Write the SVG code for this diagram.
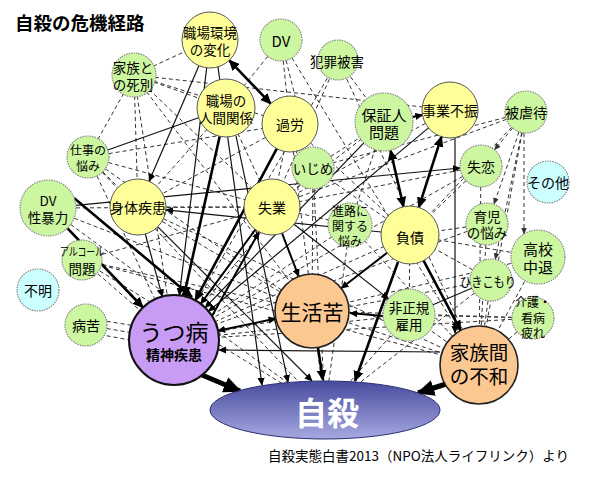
<svg xmlns="http://www.w3.org/2000/svg" width="600" height="480" viewBox="0 0 600 480">
<defs>
<style>
.d{stroke:#333;stroke-width:1;stroke-dasharray:4 3;fill:none}
.s{stroke:#111;stroke-width:1.2;fill:none}
.m{stroke:#000;stroke-width:2;fill:none}
.t{stroke:#000;stroke-width:2.6;fill:none}
.x{stroke:#000;stroke-width:5;fill:none}
.y{fill:#ffff99;stroke:#555;stroke-width:1}
.g{fill:#ccf7a0;stroke:#888;stroke-width:1.2;stroke-dasharray:1.5 1}
.c{fill:#ccffff;stroke:#888;stroke-width:1.2;stroke-dasharray:1.5 1}
.o{fill:#fcc892;stroke:#222;stroke-width:1.6}
.p{fill:#c89cf5;stroke:#111;stroke-width:2}
text{font-family:"Noto Sans CJK JP","Noto Sans CJK SC",sans-serif;fill:#000;text-anchor:middle;dominant-baseline:central;font-size:13.5px}
.f12{font-size:12px}
.f14{font-size:14px}
.f15{font-size:15px}
</style>
<marker id="a" viewBox="0 0 10 10" refX="9" refY="5" markerWidth="8" markerHeight="8" markerUnits="userSpaceOnUse" orient="auto-start-reverse"><path d="M0,0.5 L10,5 L0,9.5 z" fill="#000"/></marker>
<marker id="ab" viewBox="0 0 10 10" refX="9" refY="5" markerWidth="11" markerHeight="11" markerUnits="userSpaceOnUse" orient="auto-start-reverse"><path d="M0,0.5 L10,5 L0,9.5 z" fill="#000"/></marker>
<marker id="ax" viewBox="0 0 10 10" refX="9" refY="5" markerWidth="18" markerHeight="18" markerUnits="userSpaceOnUse" orient="auto-start-reverse"><path d="M0,0.5 L10,5 L0,9.5 z" fill="#000"/></marker>
<marker id="ad" viewBox="0 0 10 10" refX="9" refY="5" markerWidth="7" markerHeight="7" markerUnits="userSpaceOnUse" orient="auto-start-reverse"><path d="M0,1 L10,5 L0,9 z" fill="#333"/></marker>
<linearGradient id="gj" x1="0" y1="0" x2="0" y2="1">
<stop offset="0" stop-color="#474b9f"/>
<stop offset="1" stop-color="#a6a9e0"/>
</linearGradient>
</defs>
<rect width="600" height="480" fill="#fff"/>
<text x="15" y="22" style="text-anchor:start;font-size:18.5px;font-weight:bold">自殺の危機経路</text>

<g id="connectors">
<line class="d" x1="134" y1="75" x2="210" y2="40"/>
<line class="d" x1="134" y1="75" x2="226" y2="108"/>
<line class="d" x1="134" y1="75" x2="290" y2="124"/>
<line class="d" x1="134" y1="75" x2="174" y2="340"/>
<line class="d" x1="134" y1="75" x2="138" y2="207"/>
<line class="d" x1="134" y1="75" x2="272" y2="207"/>
<line class="d" x1="134" y1="75" x2="88" y2="157"/>
<line class="d" x1="134" y1="75" x2="450" y2="110"/>
<line class="d" x1="134" y1="75" x2="312" y2="311"/>
<line class="d" x1="281" y1="40" x2="226" y2="108"/>
<line class="d" x1="281" y1="40" x2="290" y2="124"/>
<line class="d" x1="281" y1="40" x2="479" y2="365"/>
<line class="d" x1="281" y1="40" x2="313" y2="168"/>
<line class="d" x1="338" y1="60" x2="384" y2="122"/>
<line class="d" x1="338" y1="60" x2="272" y2="207"/>
<line class="d" x1="338" y1="60" x2="174" y2="340"/>
<line class="d" x1="338" y1="60" x2="479" y2="365"/>
<line class="d" x1="88" y1="157" x2="290" y2="124"/>
<line class="d" x1="88" y1="157" x2="174" y2="340"/>
<line class="d" x1="88" y1="157" x2="138" y2="207"/>
<line class="d" x1="88" y1="157" x2="272" y2="207"/>
<line class="d" x1="88" y1="157" x2="325" y2="410"/>
<line class="d" x1="88" y1="157" x2="312" y2="311"/>
<line class="d" x1="526" y1="112" x2="410" y2="235"/>
<line class="d" x1="526" y1="112" x2="272" y2="207"/>
<line class="d" x1="526" y1="112" x2="479" y2="365"/>
<line class="d" x1="526" y1="112" x2="313" y2="168"/>
<line class="d" x1="481" y1="166" x2="410" y2="235"/>
<line class="d" x1="481" y1="166" x2="272" y2="207"/>
<line class="d" x1="481" y1="166" x2="174" y2="340"/>
<line class="d" x1="481" y1="166" x2="479" y2="365"/>
<line class="d" x1="487" y1="224" x2="410" y2="235"/>
<line class="d" x1="487" y1="224" x2="479" y2="365"/>
<line class="d" x1="487" y1="224" x2="174" y2="340"/>
<line class="d" x1="538" y1="257" x2="410" y2="235"/>
<line class="d" x1="538" y1="257" x2="479" y2="365"/>
<line class="d" x1="538" y1="257" x2="312" y2="311"/>
<line class="d" x1="491" y1="280" x2="410" y2="235"/>
<line class="d" x1="491" y1="280" x2="479" y2="365"/>
<line class="d" x1="491" y1="280" x2="174" y2="340"/>
<line class="d" x1="491" y1="280" x2="325" y2="410"/>
<line class="d" x1="533" y1="318" x2="479" y2="365"/>
<line class="d" x1="533" y1="318" x2="174" y2="340"/>
<line class="d" x1="533" y1="318" x2="409" y2="315"/>
<line class="d" x1="533" y1="318" x2="312" y2="311"/>
<line class="d" x1="409" y1="315" x2="410" y2="235"/>
<line class="d" x1="409" y1="315" x2="479" y2="365"/>
<line class="d" x1="409" y1="315" x2="174" y2="340"/>
<line class="d" x1="409" y1="315" x2="325" y2="410"/>
<line class="d" x1="350" y1="225" x2="272" y2="207"/>
<line class="d" x1="350" y1="225" x2="174" y2="340"/>
<line class="d" x1="350" y1="225" x2="325" y2="410"/>
<line class="d" x1="350" y1="225" x2="479" y2="365"/>
<line class="d" x1="350" y1="225" x2="384" y2="122"/>
<line class="d" x1="313" y1="168" x2="272" y2="207"/>
<line class="d" x1="313" y1="168" x2="174" y2="340"/>
<line class="d" x1="313" y1="168" x2="325" y2="410"/>
<line class="d" x1="313" y1="168" x2="312" y2="311"/>
<line class="d" x1="313" y1="168" x2="384" y2="122"/>
<line class="d" x1="313" y1="168" x2="410" y2="235"/>
<line class="d" x1="82" y1="260" x2="174" y2="340"/>
<line class="d" x1="82" y1="260" x2="312" y2="311"/>
<line class="d" x1="82" y1="260" x2="479" y2="365"/>
<line class="d" x1="82" y1="260" x2="325" y2="410"/>
<line class="d" x1="82" y1="260" x2="272" y2="207"/>
<line class="d" x1="86" y1="318" x2="174" y2="332"/>
<line class="d" x1="86" y1="325" x2="174" y2="340"/>
<line class="d" x1="86" y1="332" x2="174" y2="348"/>
<line class="d" x1="138" y1="207" x2="272" y2="207"/>
<line class="d" x1="138" y1="207" x2="312" y2="311"/>
<line class="d" x1="138" y1="207" x2="479" y2="365"/>
<line class="d" x1="290" y1="124" x2="272" y2="207"/>
<line class="d" x1="290" y1="124" x2="325" y2="410"/>
<line class="d" x1="290" y1="124" x2="138" y2="207"/>
<line class="d" x1="290" y1="124" x2="410" y2="235"/>
<line class="d" x1="226" y1="108" x2="138" y2="207"/>
<line class="d" x1="226" y1="108" x2="272" y2="207"/>
<line class="d" x1="410" y1="235" x2="174" y2="340"/>
<line class="d" x1="479" y1="365" x2="312" y2="311"/>
<line class="d" x1="48" y1="208" x2="272" y2="207"/>
<line class="d" x1="48" y1="208" x2="312" y2="311"/>
<line class="d" x1="48" y1="208" x2="325" y2="410"/>
<line class="d" x1="450" y1="110" x2="272" y2="207"/>
<line class="d" x1="384" y1="122" x2="272" y2="207"/>
<line class="d" x1="512.6" y1="128.1" x2="494.4" y2="149.9" marker-end="url(#ad)"/>
<line class="d" x1="519.1" y1="131.8" x2="493.9" y2="204.2" marker-end="url(#ad)"/>
<line class="d" x1="524" y1="133" x2="524" y2="234" marker-end="url(#ad)"/>
<line class="d" x1="521.7" y1="132.6" x2="495.3" y2="259.4" marker-end="url(#ad)"/>

<line class="s" x1="226" y1="108" x2="88" y2="157"/>
<line class="s" x1="491" y1="280" x2="409" y2="315"/>
<line class="s" x1="75.9" y1="205.3" x2="460.1" y2="168" marker-end="url(#a)"/>
<line class="s" x1="381.1" y1="232" x2="165.9" y2="209.9" marker-end="url(#a)"/>
<line class="s" x1="294" y1="224.3" x2="388.6" y2="298.9" marker-end="url(#a)"/>
<line class="s" x1="198.9" y1="65.7" x2="149.1" y2="181.3" marker-end="url(#a)"/>
<line class="s" x1="206.7" y1="67.8" x2="179.4" y2="295.3" marker-end="url(#a)"/>
<line class="s" x1="145.3" y1="234" x2="162.3" y2="296.6" marker-end="url(#a)"/>
<line class="s" x1="428.5" y1="127.9" x2="208.6" y2="311.2" marker-end="url(#a)"/>
<line class="s" x1="363.9" y1="142.9" x2="205.2" y2="307.6" marker-end="url(#a)"/>
<line class="s" x1="218" y1="67" x2="262" y2="385" marker-end="url(#a)"/>
<line class="s" x1="236" y1="136" x2="288" y2="382" marker-end="url(#a)"/>
<line class="s" x1="157.8" y1="226.8" x2="312" y2="381" marker-end="url(#a)"/>
<line class="s" x1="455" y1="137" x2="455" y2="333" marker-end="url(#a)"/>
<line class="s" x1="440" y1="352" x2="219" y2="350" marker-end="url(#a)"/>

<line class="m" x1="412.5" y1="117" x2="422.5" y2="115" marker-end="url(#a)"/>
<line class="m" x1="218" y1="330.7" x2="275.8" y2="318.6" marker-start="url(#a)" marker-end="url(#a)"/>
<line class="m" x1="383" y1="316" x2="350" y2="313" marker-end="url(#a)"/>
<line class="m" x1="387.1" y1="252.8" x2="341.2" y2="288.3" marker-end="url(#a)"/>
<line class="m" x1="282" y1="233.2" x2="298.7" y2="276.4" marker-end="url(#a)"/>
<line class="m" x1="255.4" y1="229.5" x2="200.7" y2="303.8" marker-end="url(#a)"/>
<line class="m" x1="212" y1="316" x2="259" y2="232" marker-end="url(#a)"/>

<line class="t" x1="229.3" y1="60.3" x2="270.7" y2="103.7" marker-start="url(#ab)" marker-end="url(#ab)"/>
<line class="t" x1="390.5" y1="150.2" x2="403.5" y2="206.8" marker-start="url(#ab)" marker-end="url(#ab)"/>
<line class="t" x1="441.5" y1="136.7" x2="418.8" y2="207.4" marker-start="url(#ab)" marker-end="url(#ab)"/>
<line class="t" x1="423.6" y1="260.6" x2="460.7" y2="330.6" marker-end="url(#ab)"/>
<line class="t" x1="398" y1="262" x2="355" y2="381" marker-end="url(#ab)"/>
<line class="t" x1="318" y1="348" x2="323" y2="380" marker-end="url(#ab)"/>
<line class="t" x1="67.3" y1="228.2" x2="143" y2="307.5" marker-end="url(#ab)"/>
<line class="t" x1="74" y1="198" x2="192" y2="297" marker-end="url(#ab)"/>
<line class="t" x1="219.7" y1="136.3" x2="183.9" y2="296.1" marker-end="url(#ab)"/>
<line class="t" x1="276.8" y1="148.7" x2="195.3" y2="300.4" marker-end="url(#ab)"/>
<line class="x" x1="202" y1="375" x2="240" y2="391" marker-end="url(#ax)"/>
<line class="x" x1="446" y1="384" x2="418" y2="393" marker-end="url(#ax)"/>
</g>

<g id="n-shokuba-kankyo"><circle class="y" cx="210" cy="40" r="28"/><text x="210" y="31.5">職場環境<tspan x="210" dy="17">の変化</tspan></text></g>
<g id="n-dv"><circle class="g" cx="281" cy="40" r="21"/><text class="f15" x="281" y="40">DV</text></g>
<g id="n-hanzai"><circle class="g" cx="338" cy="60" r="20"/><text x="337" y="61">犯罪被害</text></g>
<g id="n-shibetsu"><circle class="g" cx="134" cy="75" r="22"/><text x="133" y="66.5">家族と<tspan x="133" dy="17">の死別</tspan></text></g>
<g id="n-ningen"><circle class="y" cx="226" cy="108" r="29"/><text x="226" y="99.5">職場の<tspan x="226" dy="17">人間関係</tspan></text></g>
<g id="n-karou"><circle class="y" cx="290" cy="124" r="28"/><text class="f14" x="290" y="124">過労</text></g>
<g id="n-hoshounin"><circle class="g" cx="384" cy="122" r="29"/><text class="f15" x="384" y="114">保証人<tspan x="384" dy="17">問題</tspan></text></g>
<g id="n-jigyou"><circle class="y" cx="450" cy="110" r="28"/><text class="f14" x="450" y="110">事業不振</text></g>
<g id="n-gyakutai"><circle class="g" cx="526" cy="112" r="21"/><text class="f14" x="526" y="112">被虐待</text></g>
<g id="n-shigoto"><circle class="g" cx="88" cy="157" r="21"/><text class="f12" x="88" y="149">仕事の<tspan x="88" dy="16">悩み</tspan></text></g>
<g id="n-ijime"><circle class="g" cx="313" cy="168" r="21"/><text x="313" y="168">いじめ</text></g>
<g id="n-shitsuren"><circle class="g" cx="481" cy="166" r="21"/><text class="f14" x="481" y="166">失恋</text></g>
<g id="n-sonota"><circle class="c" cx="548" cy="182" r="21"/><text class="f14" x="548" y="182">その他</text></g>
<g id="n-dv-sei"><circle class="g" cx="48" cy="208" r="28"/><text x="48" y="199.5">DV<tspan x="48" dy="17.5">性暴力</tspan></text></g>
<g id="n-shintai"><circle class="y" cx="138" cy="207" r="28"/><text class="f14" x="138" y="207">身体疾患</text></g>
<g id="n-shitsugyou"><circle class="y" cx="272" cy="207" r="28"/><text class="f14" x="272" y="207">失業</text></g>
<g id="n-shinro"><circle class="g" cx="350" cy="225" r="22"/><text class="f12" x="350" y="210">進路に<tspan x="350" dy="15">関する</tspan><tspan x="350" dy="15">悩み</tspan></text></g>
<g id="n-fusai"><circle class="y" cx="410" cy="235" r="29"/><text class="f14" x="410" y="237">負債</text></g>
<g id="n-ikuji"><circle class="g" cx="487" cy="224" r="21"/><text x="487" y="216">育児<tspan x="487" dy="16">の悩み</tspan></text></g>
<g id="n-koukou"><circle class="g" cx="538" cy="257" r="27"/><text class="f15" x="538" y="248.5">高校<tspan x="538" dy="17">中退</tspan></text></g>
<g id="n-alcohol"><circle class="g" cx="82" cy="260" r="20"/><text x="82" y="251"><tspan style="font-size:11.5px" textLength="44" lengthAdjust="spacingAndGlyphs">アルコール</tspan><tspan x="82" dy="17">問題</tspan></text></g>
<g id="n-hikikomori"><circle class="g" cx="491" cy="280" r="21"/><text x="488" y="281" textLength="56" lengthAdjust="spacingAndGlyphs">ひきこもり</text></g>
<g id="n-fumei"><circle class="c" cx="38" cy="290" r="21"/><text class="f14" x="38" y="290">不明</text></g>
<g id="n-hiseiki"><circle class="g" cx="409" cy="315" r="26"/><text x="409" y="306.5">非正規<tspan x="409" dy="17">雇用</tspan></text></g>
<g id="n-kaigo"><circle class="g" cx="533" cy="318" r="21"/><text class="f12" x="533" y="301">介護・<tspan x="533" dy="15.5">看病</tspan><tspan x="533" dy="15.5">疲れ</tspan></text></g>
<g id="n-byouku"><circle class="g" cx="86" cy="325" r="21"/><text class="f14" x="86" y="325">病苦</text></g>
<g id="n-seikatsu"><circle class="o" cx="312" cy="311" r="37"/><text x="312" y="311" style="font-size:21px">生活苦</text></g>
<g id="n-utsu"><circle class="p" cx="174" cy="340" r="45"/><text x="174" y="331" style="font-size:23px">うつ病<tspan x="174" dy="23" style="font-size:14px;font-weight:bold">精神疾患</tspan></text></g>
<g id="n-fuwa"><circle class="o" cx="479" cy="365" r="39"/><text x="479" y="351" style="font-size:19.5px">家族間<tspan x="479" dy="24">の不和</tspan></text></g>
<g id="n-jisatsu"><ellipse cx="325" cy="410" rx="115" ry="29" fill="url(#gj)" stroke="#2c2e70" stroke-width="1"/><text x="327" y="411" style="font-size:32px;font-weight:bold;fill:#fff">自殺</text></g>

<text x="268" y="455" style="text-anchor:start;font-size:13.5px">自殺実態白書2013（NPO法人ライフリンク）より</text>
</svg>
